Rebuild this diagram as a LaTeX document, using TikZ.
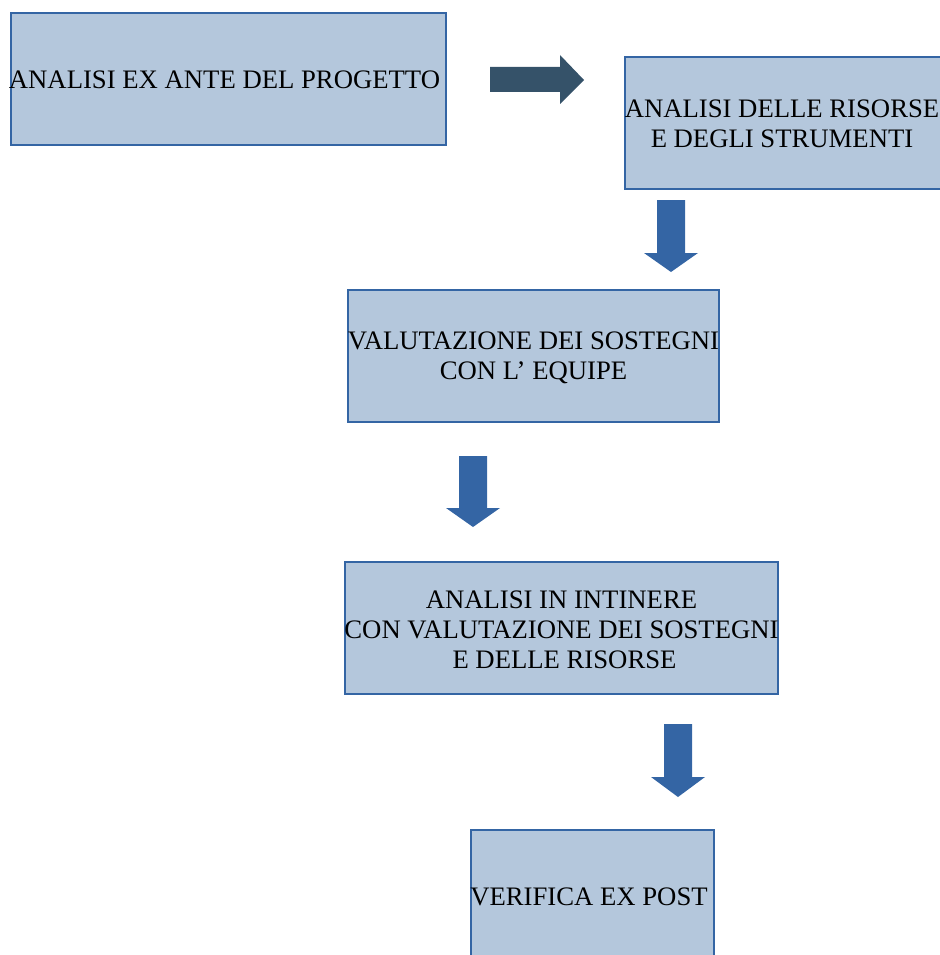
\documentclass[tikz,border=0pt]{standalone}
\usepackage{fontspec}
\setmainfont{Liberation Serif}
\definecolor{boxfill}{HTML}{B4C7DC}
\definecolor{boxline}{HTML}{3465A4}
\definecolor{arrblue}{HTML}{3465A4}
\definecolor{arrdark}{HTML}{355269}
\begin{document}
\begin{tikzpicture}[x=1pt,y=-1pt,
  box/.style={draw=boxline,fill=boxfill,line width=1.4pt},
  lbl/.style={inner sep=0pt,align=center,font=\fontsize{26.7}{30}\selectfont},
  darrow/.style={fill=arrblue},
  rarrow/.style={fill=arrdark}]
\useasboundingbox (0,0) rectangle (939,955);
% boxes
\draw[box] (11,13) rectangle (446,145) coordinate (b1);
\draw[box] (625,57) rectangle (960,189) coordinate (b2);
\draw[box] (348,290) rectangle (719,422) coordinate (b3);
\draw[box] (345,562) rectangle (778,694) coordinate (b4);
\draw[box] (471,830) rectangle (714,980) coordinate (b5);
% texts
\node[lbl] (t1) at (224.5,80) {ANALISI EX ANTE DEL PROGETTO};
\node[lbl] (t2) at (782,124) {ANALISI DELLE RISORSE\\E DEGLI STRUMENTI};
\node[lbl] (t3) at (533.5,358) {VALUTAZIONE DEI SOSTEGNI\\CON L’ EQUIPE};
\node[lbl] (t4) at (561.5,630) {ANALISI IN INTINERE\hspace{14pt}\\CON VALUTAZIONE DEI SOSTEGNI\\\hspace{6pt}E DELLE RISORSE};
\node[lbl] (t5) at (589,897) {VERIFICA EX POST};
% block arrows
\fill[rarrow] (490,67) -- (560,67) -- (560,55) -- (584,80) -- (560,104) -- (560,92) -- (490,92) -- cycle;
\fill[darrow] (657,200) -- (685,200) -- (685,253) -- (698,253) -- (671,272) -- (644,253) -- (657,253) -- cycle;
\fill[darrow] (459,456) -- (487,456) -- (487,508) -- (500,508) -- (473,527) -- (446,508) -- (459,508) -- cycle;
\fill[darrow] (664,724) -- (692,724) -- (692,777) -- (705,777) -- (678,797) -- (651,777) -- (664,777) -- cycle;
\end{tikzpicture}
\end{document}
